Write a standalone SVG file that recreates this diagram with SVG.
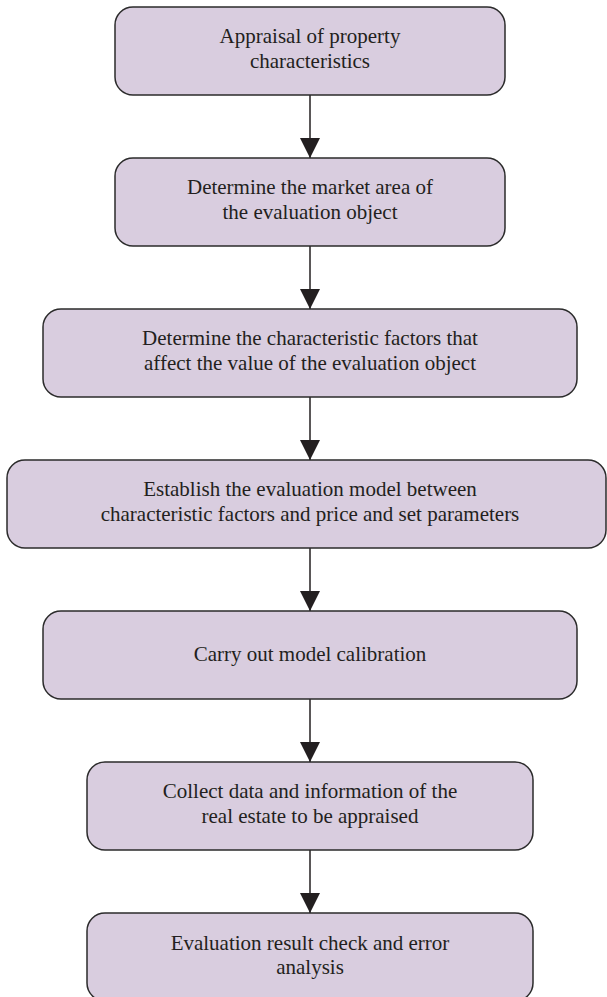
<svg xmlns="http://www.w3.org/2000/svg" width="607" height="997" viewBox="0 0 607 997">
  <style>
    .box { fill: #d9cddf; stroke: #2b2b2b; stroke-width: 1.5; }
    .lbl { font-family: "Liberation Serif", "Times New Roman", serif; font-size: 21px; fill: #231f20; text-anchor: middle; }
    .edge { stroke: #231f20; stroke-width: 1.5; fill: none; marker-end: url(#arrow); }
  </style>
  <defs>
    <marker id="arrow" markerWidth="20" markerHeight="20" refX="20" refY="10" orient="auto" markerUnits="userSpaceOnUse" viewBox="0 0 20 20">
      <path d="M0,0 L20,10 L0,20 Z" fill="#231f20"/>
    </marker>
  </defs>
  <rect width="607" height="997" fill="#ffffff"/>

  <g id="connectors">
    <line class="edge" x1="310" y1="95" x2="310" y2="158"/>
    <line class="edge" x1="310" y1="246" x2="310" y2="309"/>
    <line class="edge" x1="310" y1="397" x2="310" y2="460"/>
    <line class="edge" x1="310" y1="548" x2="310" y2="611"/>
    <line class="edge" x1="310" y1="699" x2="310" y2="762"/>
    <line class="edge" x1="310" y1="850" x2="310" y2="913"/>
  </g>

  <g id="step1">
    <rect class="box" x="115" y="7" width="390" height="88" rx="18"/>
    <text class="lbl" x="310" y="43">Appraisal of property</text>
    <text class="lbl" x="310" y="68">characteristics</text>
  </g>
  <g id="step2">
    <rect class="box" x="115" y="158" width="390" height="88" rx="18"/>
    <text class="lbl" x="310" y="194">Determine the market area of</text>
    <text class="lbl" x="310" y="219">the evaluation object</text>
  </g>
  <g id="step3">
    <rect class="box" x="43" y="309" width="534" height="88" rx="18"/>
    <text class="lbl" x="310" y="345">Determine the characteristic factors that</text>
    <text class="lbl" x="310" y="370">affect the value of the evaluation object</text>
  </g>
  <g id="step4">
    <rect class="box" x="7" y="460" width="599" height="88" rx="18"/>
    <text class="lbl" x="310" y="496">Establish the evaluation model between</text>
    <text class="lbl" x="310" y="521">characteristic factors and price and set parameters</text>
  </g>
  <g id="step5">
    <rect class="box" x="43" y="611" width="534" height="88" rx="18"/>
    <text class="lbl" x="310" y="661">Carry out model calibration</text>
  </g>
  <g id="step6">
    <rect class="box" x="87" y="762" width="446" height="88" rx="18"/>
    <text class="lbl" x="310" y="798">Collect data and information of the</text>
    <text class="lbl" x="310" y="823">real estate to be appraised</text>
  </g>
  <g id="step7">
    <rect class="box" x="87" y="913" width="446" height="88" rx="18"/>
    <text class="lbl" x="310" y="950">Evaluation result check and error</text>
    <text class="lbl" x="310" y="974">analysis</text>
  </g>
</svg>
